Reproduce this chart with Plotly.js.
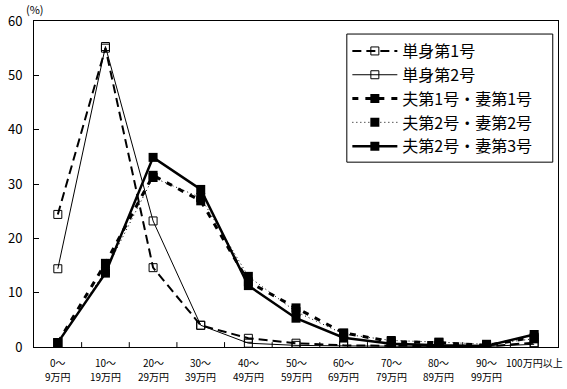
<!DOCTYPE html>
<html><head><meta charset="utf-8">
<script src="https://cdn.plot.ly/plotly-3.0.1.min.js"></script>
<style>html,body{margin:0;padding:0;background:#fff}#c{width:567px;height:389px}</style>
</head><body><div id="c"></div>
<script>
const catLine1 = ["0～","10～","20～","30～","40～","50～","60～","70～","80～","90～","100万円以上"];
const catLine2 = ["9万円","19万円","29万円","39万円","49万円","59万円","69万円","79万円","89万円","99万円",""];
const seriesNames = ["単身第1号","単身第2号","夫第1号・妻第1号","夫第2号・妻第2号","夫第2号・妻第3号"];
const tanshin1 = [24.4, 55.0, 14.6, 4.0, 1.6, 0.7, 0.3, 0.2, 0.2, 0.1, 0.8];
const tanshin2 = [14.4, 55.3, 23.2, 4.0, 0.7, 0.3, 0.2, 0.1, 0.1, 0.1, 0.5];
const fuufu11 = [0.8, 15.4, 31.6, 26.9, 12.0, 7.2, 2.6, 1.0, 0.8, 0.3, 1.8];
const fuufu22 = [0.8, 14.0, 31.2, 27.5, 13.0, 6.5, 2.4, 1.2, 0.9, 0.5, 1.5];
const fuufu23 = [0.8, 13.6, 34.9, 29.0, 11.3, 5.3, 1.7, 0.6, 0.3, 0.2, 2.3];
const yTicks = [0, 10, 20, 30, 40, 50, 60];

const xs = catLine1.map((_, i) => i);
const traces = [
  {y: tanshin1, name: seriesNames[0], line:{color:'#000', width:2, dash:'9px,5px'}, marker:{symbol:'square-open', size:8, color:'#000', line:{width:1}}},
  {y: tanshin2, name: seriesNames[1], line:{color:'#000', width:1}, marker:{symbol:'square-open', size:8, color:'#000', line:{width:1}}},
  {y: fuufu11, name: seriesNames[2], line:{color:'#000', width:3, dash:'6px,7px'}, marker:{symbol:'square', size:9, color:'#000'}},
  {y: fuufu22, name: seriesNames[3], line:{color:'#000', width:1, dash:'1px,3px'}, marker:{symbol:'square', size:9, color:'#000'}},
  {y: fuufu23, name: seriesNames[4], line:{color:'#000', width:2.5}, marker:{symbol:'square', size:9, color:'#000'}}
].map(t => Object.assign({type:'scatter', mode:'lines+markers', x: xs}, t));

const labelFont = {size:10};
const annotations = [{text:'(%)', xref:'paper', yref:'paper', x:-0.02, y:1.0, xanchor:'left', yanchor:'bottom', yshift:2, showarrow:false, font:{size:11}}];
xs.forEach(i => {
  annotations.push({text: catLine1[i], xref:'x', yref:'paper', x:i, y:0, yanchor:'middle', yshift:-15, borderpad:0, showarrow:false, font:labelFont});
  if (catLine2[i]) annotations.push({text: catLine2[i], xref:'x', yref:'paper', x:i, y:0, yanchor:'middle', yshift:-29, borderpad:0, showarrow:false, font:labelFont});
});

const shapes = xs.slice(0, -1).map(i => ({type:'line', xref:'x', yref:'paper', x0:i+0.5, x1:i+0.5, y0:0, y1:0.015, line:{color:'#000', width:1}}));
shapes.push({type:'rect', xref:'paper', yref:'paper', x0:0.597, x1:0.990, y0:0.567, y1:0.960, fillcolor:'#fff', line:{color:'#000', width:1}, layer:'above'});

const layout = {
  width: 567, height: 389,
  margin: {l:34, r:9, t:21, b:42},
  paper_bgcolor:'#fff', plot_bgcolor:'#fff',
  font: {family:'"Noto Sans CJK JP", sans-serif', color:'#000', size:11},
  showlegend: true,
  legend: {x:0.598, y:0.96, xanchor:'left', yanchor:'top', borderwidth:0,
           bgcolor:'rgba(0,0,0,0)', font:{size:16}, itemwidth:45},
  xaxis: {range:[-0.5, 10.5], showticklabels:false,
          showline:true, mirror:true, linecolor:'#000', linewidth:1,
          ticks:'', showgrid:false, zeroline:false},
  yaxis: {range:[0, 60], tickmode:'array', tickvals: yTicks, ticks:'inside', ticklen:5, tickcolor:'#000',
          showline:true, mirror:true, linecolor:'#000', linewidth:1, showgrid:false, zeroline:false,
          tickfont:{size:13}, ticklabelstandoff:8},
  shapes: shapes,
  annotations: annotations
};
Plotly.newPlot('c', traces, layout, {displayModeBar:false, staticPlot:true});
</script></body></html>
